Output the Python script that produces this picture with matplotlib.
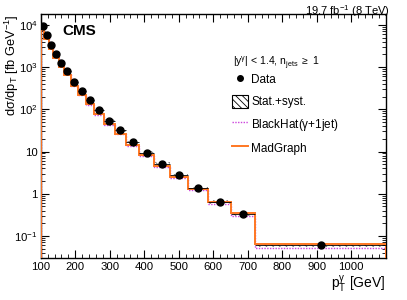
import matplotlib
matplotlib.use('Agg')
import matplotlib.pyplot as plt
import numpy as np
from matplotlib.lines import Line2D
from matplotlib.patches import Patch

plt.rcParams['font.family'] = ['Liberation Sans', 'DejaVu Sans']
plt.rcParams['mathtext.fontset'] = 'custom'
plt.rcParams['mathtext.rm'] = 'Liberation Sans'
plt.rcParams['mathtext.it'] = 'Liberation Sans'
plt.rcParams['hatch.linewidth'] = 0.6

# bin edges in photon pT [GeV]
edges = [100, 111, 123, 137, 152, 168, 187, 207, 230, 255, 283, 314,
         348, 386, 429, 476, 528, 586, 651, 722, 1100]
# measured cross section [fb/GeV]
data = [9200, 5870, 3400, 2080, 1270, 822, 434, 276, 163, 94, 53, 31.6,
        16.7, 9.4, 5.1, 2.76, 1.35, 0.63, 0.33, 0.0596]
# relative stat+syst uncertainty
data_unc = [0.10, 0.09, 0.09, 0.09, 0.09, 0.09, 0.09, 0.09, 0.09, 0.09,
            0.09, 0.09, 0.09, 0.09, 0.09, 0.09, 0.09, 0.10, 0.10, 0.10]
madgraph = [7400, 4700, 2750, 1680, 1030, 660, 355, 222, 132, 77, 44, 26.5,
            14.3, 8.1, 4.5, 2.45, 1.3, 0.64, 0.34, 0.063]
blackhat = [7800, 4900, 2850, 1750, 1050, 670, 350, 220, 128, 74, 43, 25.5,
            13.7, 7.7, 4.2, 2.35, 1.2, 0.57, 0.29, 0.052]

edges_a = np.array(edges, dtype=float)
centers = 0.5 * (edges_a[1:] + edges_a[:-1])
widths = np.diff(edges_a)
data_a = np.array(data)
unc_a = np.array(data_unc)

fig = plt.figure(figsize=(4.07, 3.0), dpi=100)
ax = fig.add_axes([0.1, 0.14, 0.848, 0.813])

# stat+syst boxes
ax.bar(edges_a[:-1], 2 * unc_a * data_a, bottom=data_a * (1 - unc_a), width=widths,
       align='edge', fill=False, hatch='\\\\\\\\\\', edgecolor='#666666', linewidth=0, zorder=1)
ax.stairs(blackhat, edges, color='#cc44dd', linestyle=(0, (1, 1)), linewidth=1.0, zorder=2)
ax.stairs(madgraph, edges, color='#ff7722', linewidth=1.4, zorder=3)
ax.errorbar(centers, data, xerr=widths / 2, fmt='o', color='black', markersize=5,
            elinewidth=0.6, capsize=0, zorder=4)

ax.set_yscale('log')
ax.set_xlim(100, 1100)
ax.set_ylim(0.03, 1.8e4)
ax.set_xticks(np.arange(100, 1001, 100))
ax.set_xticks(np.arange(100, 1101, 20), minor=True)
ax.tick_params(which='both', direction='in', top=True, right=True, labelsize=8.2, pad=3)
ax.tick_params(axis='y', pad=2)
ax.tick_params(which='major', length=6, width=0.8)
ax.tick_params(which='minor', length=3, width=0.6)
ax.yaxis.set_major_formatter(matplotlib.ticker.FuncFormatter(
    lambda v, p: {1: '1', 10: '10'}.get(round(v, 6), '$10^{%d}$' % round(np.log10(v)))))
for s in ax.spines.values():
    s.set_linewidth(1.0)

ax.set_xlabel(r'p$_\mathregular{T}^{\gamma}$ [GeV]', fontsize=10, loc='right', labelpad=1)
ax.set_ylabel(r'd$\sigma$/dp$_\mathregular{T}$ [fb GeV$^{-1}$]', fontsize=9.3, loc='top')
ax.yaxis.set_label_coords(-0.058, 1.0)

ax.text(0.062, 0.93, 'CMS', transform=ax.transAxes, fontsize=11, fontweight='bold', va='center')
fig.text(0.957, 0.99, r'19.7 fb$^{-1}$ (8 TeV)', ha='right', va='top', fontsize=8)

# legend header
ax.text(0.557, 0.803, r'|y$^{\gamma}$| < 1.4, n$_\mathregular{jets}$ $\geq$ 1',
        transform=ax.transAxes, fontsize=7.5, va='center')

handles = [Line2D([], [], marker='o', color='black', linestyle='none', markersize=4),
           Patch(facecolor='white', edgecolor='black', hatch='\\\\\\\\\\', linewidth=0.8),
           Line2D([], [], color='#cc44dd', linestyle=(0, (1, 1)), linewidth=1.0),
           Line2D([], [], color='#ff7722', linewidth=1.4)]
labels = ['Data', 'Stat.+syst.', r'BlackHat($\gamma$+1jet)', 'MadGraph']
leg = ax.legend(handles, labels, loc='upper left', bbox_to_anchor=(0.555, 0.759),
                frameon=False, fontsize=8.5, handlelength=1.3, handleheight=1.3,
                handletextpad=0.3, labelspacing=0.72, borderaxespad=0, borderpad=0)

fig.savefig('out.png', dpi=100)
